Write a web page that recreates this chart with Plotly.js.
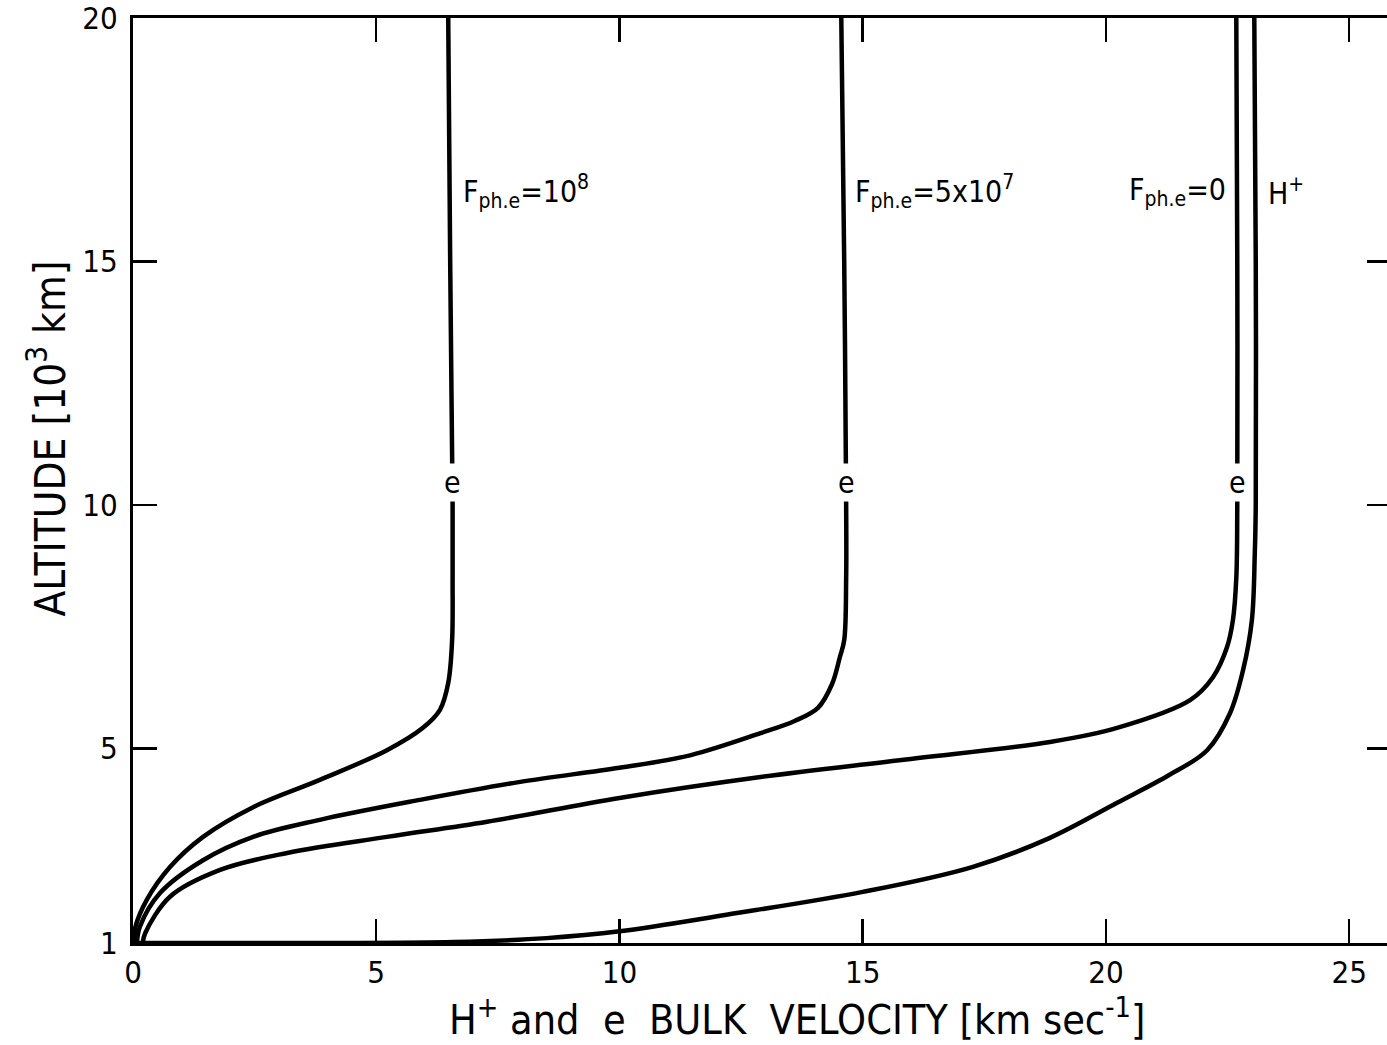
<!DOCTYPE html>
<html>
<head>
<meta charset="utf-8">
<script src="https://cdn.plot.ly/plotly-3.0.1.min.js"></script>
<style>
html,body{margin:0;padding:0;background:#fff;overflow:hidden;}
#chart{width:1391px;height:1045px;}
</style>
</head>
<body>
<div id="chart"></div>
<script>
// Electron bulk velocity, F_ph.e = 1e8
const altA = [1.0, 1.06, 1.33, 1.88, 2.56, 3.18, 3.79, 4.35, 4.96, 5.42, 5.79, 6.34, 7.22, 8.5, 10, 12, 15, 20];
const velA = [0.0, 0.02, 0.05, 0.28, 0.76, 1.44, 2.47, 3.84, 5.22, 5.96, 6.31, 6.48, 6.56, 6.57, 6.57, 6.55, 6.52, 6.48];
// Electron bulk velocity, F_ph.e = 5e7
const altB = [1.0, 1.33, 2.03, 2.7, 3.18, 3.53, 3.94, 4.31, 4.6, 4.86, 5.31, 5.56, 5.83, 6.32, 6.87, 7.22, 8.5, 10, 15, 20];
const velB = [0.08, 0.14, 0.56, 1.44, 2.47, 3.84, 5.9, 7.96, 10.0, 11.47, 12.9, 13.6, 14.08, 14.37, 14.53, 14.62, 14.66, 14.66, 14.62, 14.56];
// Electron bulk velocity, F_ph.e = 0
const altC = [1.0, 1.2, 1.95, 2.5, 2.85, 3.18, 3.49, 3.98, 4.41, 4.76, 5.13, 5.42, 5.99, 6.46, 7.08, 7.63, 8.5, 10, 15, 20];
const velC = [0.2, 0.25, 0.76, 1.79, 3.17, 5.22, 7.28, 10.0, 12.9, 15.8, 18.85, 20.23, 21.73, 22.2, 22.49, 22.61, 22.68, 22.7, 22.7, 22.68];
// H+ bulk velocity
const altH = [1.0, 1.0, 1.02, 1.1, 1.24, 1.58, 2.05, 2.56, 3.16, 3.88, 4.45, 4.96, 5.72, 6.61, 7.63, 9, 10, 15, 20];
const velH = [0.0, 4.0, 6.6, 8.5, 10.0, 12.2, 15.0, 17.25, 18.85, 20.23, 21.3, 22.08, 22.55, 22.82, 23.0, 23.06, 23.08, 23.08, 23.05];

const xTicks = [0, 5, 10, 15, 20, 25];
const yTicks = [1, 5, 10, 15, 20];

const labelAlt = 16.43;
const eAlt = 10.45;

const NB = '\u00A0';
const ZW = '\u200B';
const FONT = '"DejaVu Sans Condensed", "DejaVu Sans", sans-serif';
const lineStyle = {color: '#000', width: 4.5, shape: 'spline', smoothing: 1};

const mk = (x, y, name) => ({x: x, y: y, name: name, type: 'scatter', mode: 'lines', line: lineStyle, hoverinfo: 'skip'});
const traces = [
  mk(velA, altA, 'e, F=1e8'),
  mk(velB, altB, 'e, F=5e7'),
  mk(velC, altC, 'e, F=0'),
  mk(velH, altH, 'H+')
];

function eAt(vel, alt){
  return vel[alt.indexOf(10)];
}

const annFont = {family: FONT, size: 30, color: '#000'};
const annotations = [
  {x: 6.75, y: labelAlt, xref: 'x', yref: 'y', xanchor: 'left', yanchor: 'middle', showarrow: false,
   text: 'F<sub>ph.e</sub>=10<sup>8</sup>', font: annFont},
  {x: 14.8, y: labelAlt, xref: 'x', yref: 'y', xanchor: 'left', yanchor: 'middle', showarrow: false,
   text: 'F<sub>ph.e</sub>=5x10<sup>7</sup>', font: annFont},
  {x: 22.5, y: labelAlt, xref: 'x', yref: 'y', xanchor: 'right', yanchor: 'middle', showarrow: false,
   text: 'F<sub>ph.e</sub>=0', font: annFont},
  {x: 23.3, y: labelAlt, xref: 'x', yref: 'y', xanchor: 'left', yanchor: 'middle', showarrow: false,
   text: 'H<sup>+</sup>', font: annFont},
  {x: eAt(velA, altA), y: eAlt, xref: 'x', yref: 'y', showarrow: false, text: 'e', font: annFont, bgcolor: '#fff', borderpad: 1},
  {x: eAt(velB, altB), y: eAlt, xref: 'x', yref: 'y', showarrow: false, text: 'e', font: annFont, bgcolor: '#fff', borderpad: 1},
  {x: eAt(velC, altC), y: eAlt, xref: 'x', yref: 'y', showarrow: false, text: 'e', font: annFont, bgcolor: '#fff', borderpad: 1}
];

const xTitle = ZW + NB.repeat(6) + 'H<sup>+</sup> and' + NB + NB + 'e' + NB + NB + 'BULK' + NB + NB + 'VELOCITY [km sec<sup>-1</sup>]';
const yTitle = ZW + NB.repeat(7) + 'ALTITUDE [10<sup>3</sup> km]';

const layout = {
  width: 1391, height: 1045,
  margin: {l: 133, r: 0, t: 18, b: 102},
  paper_bgcolor: '#fff', plot_bgcolor: '#fff',
  showlegend: false,
  font: {family: FONT, color: '#000'},
  xaxis: {
    range: [0, 25.86], tickvals: xTicks, ticktext: xTicks.map(String),
    ticks: 'inside', ticklen: 24, tickwidth: 2.5, tickcolor: '#000',
    showline: true, linewidth: 3, linecolor: '#000', mirror: 'ticks',
    showgrid: false, zeroline: false, ticklabeloverflow: 'allow',
    tickfont: {family: FONT, size: 31, color: '#000'}, ticklabelstandoff: 0,
    title: {text: xTitle, font: {family: FONT, size: 41, color: '#000'}, standoff: 16}
  },
  yaxis: {
    range: [1, 20], tickvals: yTicks, ticktext: yTicks.map(String),
    ticks: 'inside', ticklen: 24, tickwidth: 2.5, tickcolor: '#000',
    showline: true, linewidth: 3, linecolor: '#000', mirror: 'ticks',
    showgrid: false, zeroline: false, ticklabeloverflow: 'allow',
    tickfont: {family: FONT, size: 31, color: '#000'}, ticklabelstandoff: 6,
    title: {text: yTitle, font: {family: FONT, size: 42, color: '#000'}, standoff: 4}
  },
  annotations: annotations
};

Plotly.newPlot('chart', traces, layout, {staticPlot: true, displayModeBar: false});
</script>
</body>
</html>
